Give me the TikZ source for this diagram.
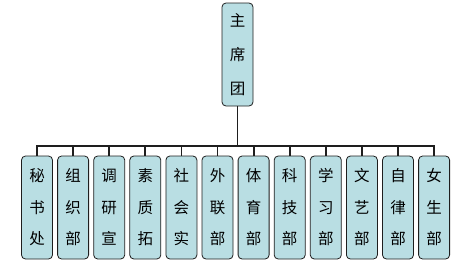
\documentclass[tikz,border=0pt]{standalone}
\usepackage{fontspec}
\newfontfamily\cjk{Noto Sans CJK SC}
\usetikzlibrary{positioning}
\definecolor{boxcyan}{HTML}{B9DEE3}
\definecolor{edgegray}{HTML}{1E1E1E}

\begin{document}
\begin{tikzpicture}[
  x=1pt, y=1pt,
  font=\cjk\fontsize{15.5pt}{31.5pt}\selectfont,
  node distance=0pt and 4.3pt,
  unit/.style={
    rounded corners=4pt,
    draw=edgegray,
    fill=boxcyan,
    line width=0.8pt,
    align=center,
    minimum width=31pt,
    text width=20pt,
    minimum height=103pt,
    inner sep=0pt
  },
  head/.style={unit, font=\cjk\fontsize{15.5pt}{34pt}\selectfont},
  link/.style={edgegray, line width=1.8pt}
]
\useasboundingbox (0,0) rectangle (465,-273);

\node[head] (zhuxi) at (237.5,-54.5) {主\\席\\团};
\coordinate (bus) at (237.5,-146);

\node[unit] (mishu) at (37,-207.5) {秘\\书\\处};
\node[unit, right=of mishu] (zuzhi) {组\\织\\部};
\node[unit, right=of zuzhi] (diaoyan) {调\\研\\宣};
\node[unit, right=of diaoyan] (suzhi) {素\\质\\拓};
\node[unit, right=of suzhi] (shehui) {社\\会\\实};
\node[unit, right=of shehui] (wailian) {外\\联\\部};
\node[unit, right=of wailian] (tiyu) {体\\育\\部};
\node[unit, right=of tiyu] (keji) {科\\技\\部};
\node[unit, right=of keji] (xuexi) {学\\习\\部};
\node[unit, right=of xuexi] (wenyi) {文\\艺\\部};
\node[unit, right=of wenyi] (zilv) {自\\律\\部};
\node[unit, right=of zilv] (nvsheng) {女\\生\\部};

\draw[link] (zhuxi.south) -- (zhuxi.south |- bus);
\draw[link] (mishu.north) -- (mishu.north |- bus) -- (nvsheng.north |- bus) -- (nvsheng.north);
\draw[link] (zuzhi.north) -- (zuzhi.north |- bus);
\draw[link] (diaoyan.north) -- (diaoyan.north |- bus);
\draw[link] (suzhi.north) -- (suzhi.north |- bus);
\draw[link] (shehui.north) -- (shehui.north |- bus);
\draw[link] (wailian.north) -- (wailian.north |- bus);
\draw[link] (tiyu.north) -- (tiyu.north |- bus);
\draw[link] (keji.north) -- (keji.north |- bus);
\draw[link] (xuexi.north) -- (xuexi.north |- bus);
\draw[link] (wenyi.north) -- (wenyi.north |- bus);
\draw[link] (zilv.north) -- (zilv.north |- bus);

\end{tikzpicture}
\end{document}
